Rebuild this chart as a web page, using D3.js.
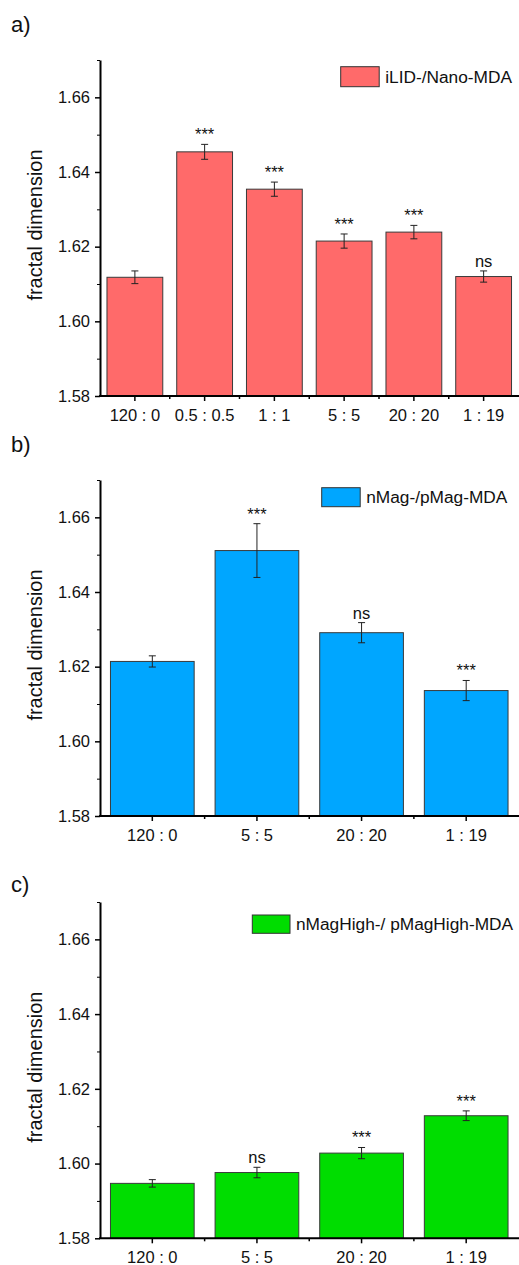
<!DOCTYPE html>
<html>
<head>
<meta charset="utf-8">
<script src="https://cdn.jsdelivr.net/npm/d3@7"></script>
<style>
  body { margin: 0; background: #fff; }
  svg text { font-family: "Liberation Sans", Arial, sans-serif; fill: #111; }
</style>
</head>
<body>
<div class="container"></div>
<script>
// values
const catsA = ['120 : 0', '0.5 : 0.5', '1 : 1', '5 : 5', '20 : 20', '1 : 19'];
const valsA = [1.6118, 1.6454, 1.6354, 1.6215, 1.6239, 1.6120];
const errsA = [0.0017, 0.0020, 0.0019, 0.0019, 0.0018, 0.0015];
const sigA = ['', '***', '***', '***', '***', 'ns'];

const catsB = ['120 : 0', '5 : 5', '20 : 20', '1 : 19'];
const valsB = [1.6214, 1.6511, 1.6291, 1.6136];
const errsB = [0.0015, 0.0072, 0.0027, 0.0027];
const sigB = ['', '***', 'ns', '***'];

const catsC = ['120 : 0', '5 : 5', '20 : 20', '1 : 19'];
const valsC = [1.5947, 1.5976, 1.6028, 1.6128];
const errsC = [0.0010, 0.0014, 0.0015, 0.0013];
const sigC = ['', 'ns', '***', '***'];

const yTicks = [1.58, 1.60, 1.62, 1.64, 1.66];
const yMinor = [1.59, 1.61, 1.63, 1.65, 1.67];
const yDomain = [1.58, 1.67];

const WIDTH = 519;
const HEIGHT = 1265;
const X0 = 100;
const X1 = 518.5;

const panels = [
    {tag: 'a)', tagY: 31.5, top: 60, bottom: 396, cats: catsA, vals: valsA, errs: errsA, sig: sigA,
     name: 'iLID-/Nano-MDA', color: '#ff6a6a', lx: 340.7, ly: 66.7, lw: 38.5, lh: 20},
    {tag: 'b)', tagY: 452, top: 480, bottom: 816, cats: catsB, vals: valsB, errs: errsB, sig: sigB,
     name: 'nMag-/pMag-MDA', color: '#00a6ff', lx: 321.7, ly: 487.7, lw: 38.5, lh: 19},
    {tag: 'c)', tagY: 892, top: 902, bottom: 1238.3, cats: catsC, vals: valsC, errs: errsC, sig: sigC,
     name: 'nMagHigh-/ pMagHigh-MDA', color: '#00dd00', lx: 252.3, ly: 915, lw: 37.7, lh: 18.3}
];

var svg = d3.select('.container').append('svg')
    .attr('width', WIDTH)
    .attr('height', HEIGHT);

panels.forEach(function (p) {
    var data = p.cats.map((c, i) => ({cat: c, v: p.vals[i], e: p.errs[i], s: p.sig[i]}));

    var xScale = d3.scaleBand()
        .domain(p.cats)
        .range([X0, X1])
        .paddingInner(0.2)
        .paddingOuter(0.1);

    var yScale = d3.scaleLinear()
        .domain(yDomain)
        .range([p.bottom, p.top]);

    svg.append('text')
        .attr('x', 11)
        .attr('y', p.tagY)
        .style('font-size', '22px')
        .text(p.tag);

    // bars
    svg.append('g').selectAll('rect').data(data)
        .enter().append('rect')
        .attr('x', d => xScale(d.cat))
        .attr('y', d => yScale(d.v))
        .attr('width', xScale.bandwidth())
        .attr('height', d => yScale(yDomain[0]) - yScale(d.v))
        .attr('fill', p.color)
        .attr('stroke', '#3a3a3a')
        .attr('stroke-width', 1);

    // error bars
    var eb = svg.append('g').attr('stroke', '#222').attr('stroke-width', 1)
        .selectAll('g').data(data).enter().append('g')
        .attr('transform', d => `translate(${xScale(d.cat) + xScale.bandwidth() / 2}, 0)`);
    eb.append('line')
        .attr('y1', d => yScale(d.v - d.e))
        .attr('y2', d => yScale(d.v + d.e));
    eb.append('line')
        .attr('x1', -3.5).attr('x2', 3.5)
        .attr('y1', d => yScale(d.v + d.e))
        .attr('y2', d => yScale(d.v + d.e));
    eb.append('line')
        .attr('x1', -3.5).attr('x2', 3.5)
        .attr('y1', d => yScale(d.v - d.e))
        .attr('y2', d => yScale(d.v - d.e));

    // significance marks
    svg.append('g').selectAll('text').data(data.filter(d => d.s))
        .enter().append('text')
        .attr('x', d => xScale(d.cat) + xScale.bandwidth() / 2)
        .attr('y', d => yScale(d.v + d.e) - 4)
        .attr('text-anchor', 'middle')
        .style('font-size', '16.5px')
        .text(d => d.s);

    // y axis
    var yAxis = d3.axisLeft(yScale).tickValues(yTicks).tickSize(5).tickSizeOuter(0)
        .tickPadding(5).tickFormat(d3.format('.2f'));
    var gy = svg.append('g')
        .attr('transform', `translate(${X0}, 0)`)
        .call(yAxis);
    svg.append('g')
        .attr('transform', `translate(${X0}, 0)`)
        .call(d3.axisLeft(yScale).tickValues(yMinor).tickSize(3).tickSizeOuter(0).tickFormat(''))
        .select('.domain').remove();

    // x axis
    var xAxis = d3.axisBottom(xScale).tickSize(5).tickSizeOuter(0).tickPadding(8);
    var gx = svg.append('g')
        .attr('transform', `translate(0, ${p.bottom})`)
        .call(xAxis);
    gx.select('.domain').attr('d', `M${X0 - 1},0H${WIDTH}`);
    var minorX = p.cats.slice(1).map(c => xScale(c) - xScale.step() * xScale.paddingInner() / 2);
    gx.selectAll('.minor').data(minorX).enter().append('line')
        .attr('class', 'minor')
        .attr('x1', d => d).attr('x2', d => d)
        .attr('y1', 0).attr('y2', 3)
        .attr('stroke', '#000').attr('stroke-width', 1.5);

    [gx, gy].forEach(function (g) {
        g.select('.domain').attr('stroke', '#000').attr('stroke-width', 2);
        g.selectAll('.tick line').attr('stroke', '#000').attr('stroke-width', 1.5);
        g.selectAll('.tick text').style('font-size', '16.5px')
            .style('font-family', '"Liberation Sans", Arial, sans-serif').attr('fill', '#111');
    });

    svg.append('text')
        .attr('transform', `translate(41.5, ${(p.top + p.bottom) / 2 - 3}) rotate(-90)`)
        .attr('text-anchor', 'middle')
        .style('font-size', '20px')
        .text('fractal dimension');

    // legend
    svg.append('rect')
        .attr('x', p.lx).attr('y', p.ly)
        .attr('width', p.lw).attr('height', p.lh)
        .attr('fill', p.color)
        .attr('stroke', '#333').attr('stroke-width', 1);
    svg.append('text')
        .attr('x', p.lx + p.lw + 6)
        .attr('y', p.ly + p.lh / 2 + 6)
        .style('font-size', '17.3px')
        .text(p.name);
});
</script>
</body>
</html>
